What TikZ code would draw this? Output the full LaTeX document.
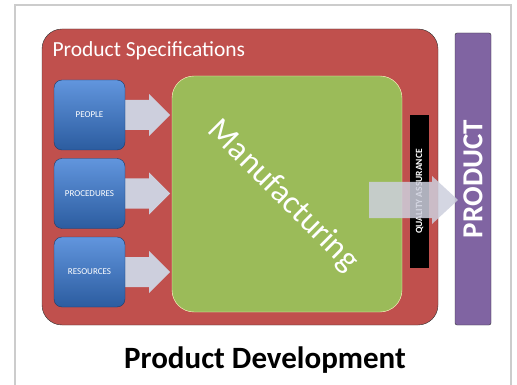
\documentclass[tikz,border=0pt]{standalone}
\usepackage{fontspec}
\setmainfont{Carlito}
\definecolor{specred}{HTML}{C0504D}
\definecolor{mangreen}{HTML}{9BBB59}
\definecolor{prodpurple}{HTML}{8064A2}
\definecolor{inblue}{HTML}{3A7BD5}
\definecolor{arrowgrey}{HTML}{CDCFDD}
\begin{document}
\begin{tikzpicture}[x=1pt,y=-1pt,
    inbox/.style={rounded corners=8pt,draw=inblue!50!black,top color=inblue!80!white,bottom color=inblue!75!black,
      minimum width=71pt,minimum height=70pt,text=white,font=\fontsize{9}{10}\selectfont},
    blockarrow/.style={fill=arrowgrey}]
\useasboundingbox (0,0) rectangle (517,385);
\draw[line width=1.5pt,black!20](15,5) rectangle (511,392);
% specifications
\node[draw=black!80,fill=specred,rounded corners=20pt,minimum width=396pt,minimum height=296pt] (spec) at (240,177) {};
\node[anchor=base west,text=white,font=\fontsize{21.5}{24}\selectfont] (spectitle) at (49,57) {Product Specifications};
\node[draw=yellow!20,fill=mangreen,rounded corners=22pt,minimum width=230pt,minimum height=236pt] (man) at (287,194) {};
% inputs
\foreach \y/\name/\txt in {115/people/PEOPLE,193.5/proc/PROCEDURES,272/res/RESOURCES}{
  \fill[blockarrow](125,\y-15)--(149,\y-15)--(149,\y-21)--(170,\y)--(149,\y+21)--(149,\y+15)--(125,\y+15)--cycle;
  \node[inbox] (\name) at (89.5,\y) {\txt};
}
\node[white,rotate=-45,font=\fontsize{33}{36}\selectfont] (mantext) at (283,196) {Manufacturing};
% output
\node[fill=black,minimum width=19pt,minimum height=153pt,inner sep=0pt] (qa) at (419.5,191.5) {};
\node[white,rotate=90,font=\bfseries\fontsize{9.5}{10}\selectfont] (qatext) at (qa) {QUALITY ASSURANCE};
\node[draw=black!80,fill=prodpurple,rounded corners=2pt,minimum width=36pt,minimum height=292pt] (product) at (473,179) {};
\fill[blockarrow,opacity=0.85](369,182)--(432,182)--(432,176)--(458,200)--(432,224)--(432,218)--(369,218)--cycle;
\node[white,rotate=90,font=\bfseries\fontsize{29}{32}\selectfont] (prodtext) at (473,179) {PRODUCT};
\node[font=\bfseries\fontsize{31}{34}\selectfont] (title) at (265,360) {Product Development};
\end{tikzpicture}
\end{document}
